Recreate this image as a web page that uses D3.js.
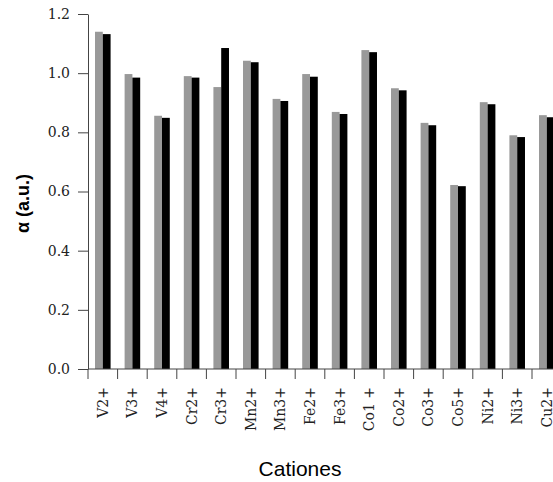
<!DOCTYPE html>
<html>
<head>
<meta charset="utf-8">
<script src="https://cdn.jsdelivr.net/npm/d3@7"></script>
<style>
  body { margin: 0; background: #fff; }
  svg { display: block; }
</style>
</head>
<body>
<div id="chartContainer"></div>
<script>
const cationes = ['V2+', 'V3+', 'V4+', 'Cr2+', 'Cr3+', 'Mn2+', 'Mn3+', 'Fe2+', 'Fe3+',
    'Co1 +', 'Co2+', 'Co3+', 'Co5+', 'Ni2+', 'Ni3+', 'Cu2+'];
const serieGris = [1.140, 0.997, 0.856, 0.990, 0.953, 1.042, 0.913, 0.997, 0.869,
    1.078, 0.949, 0.832, 0.622, 0.902, 0.790, 0.858];
const serieNegra = [1.132, 0.985, 0.849, 0.985, 1.085, 1.037, 0.906, 0.988, 0.862,
    1.071, 0.942, 0.824, 0.618, 0.895, 0.784, 0.851];
const yTicks = [0, 0.2, 0.4, 0.6, 0.8, 1.0, 1.2];

const width = 553;
const height = 482;
const margin = { top: 14, left: 88, bottom: 113 };
const step = 29.6;

const data = cationes.map((c, i) => ({ cat: c, gris: serieGris[i], negra: serieNegra[i] }));

const svg = d3.select('#chartContainer')
    .append('svg')
    .attr('width', width)
    .attr('height', height);

const scaleX = d3.scaleBand()
    .domain(cationes)
    .range([margin.left, margin.left + step * cationes.length])
    .padding(0);

const scaleSub = d3.scaleBand()
    .domain(['gris', 'negra'])
    .range([0, scaleX.bandwidth()])
    .paddingInner(0)
    .paddingOuter(0.9);

const scaleY = d3.scaleLinear()
    .domain([0, 1.2])
    .range([height - margin.bottom, margin.top]);

const colors = { gris: '#999999', negra: '#000000' };

// bars
const groups = svg.append('g')
    .selectAll('g')
    .data(data)
    .enter()
    .append('g')
    .attr('transform', d => `translate(${scaleX(d.cat)},0)`);

groups.selectAll('rect')
    .data(d => ['gris', 'negra'].map(k => ({ key: k, value: d[k] })))
    .enter()
    .append('rect')
    .attr('x', d => scaleSub(d.key))
    .attr('width', scaleSub.bandwidth())
    .attr('y', d => scaleY(d.value))
    .attr('height', d => scaleY(0) - scaleY(d.value))
    .attr('fill', d => colors[d.key]);

// Y axis
const yAxis = svg.append('g')
    .attr('transform', `translate(${margin.left},0)`)
    .call(d3.axisLeft(scaleY)
        .tickValues(yTicks)
        .tickFormat(d3.format('.1f'))
        .tickSize(10)
        .tickSizeOuter(0)
        .tickPadding(8));

yAxis.selectAll('text')
    .style('font-family', '"DejaVu Serif", serif')
    .style('font-size', '14px')
    .attr('fill', '#222');

// X axis: labels centred, ticks between categories
const xAxis = svg.append('g')
    .attr('transform', `translate(0,${scaleY(0)})`)
    .call(d3.axisBottom(scaleX).tickSize(0).tickSizeOuter(0));

xAxis.select('.domain').remove();

xAxis.selectAll('text')
    .attr('transform', 'rotate(-90)')
    .attr('x', -18)
    .attr('y', 0)
    .attr('dy', '0.35em')
    .style('text-anchor', 'end')
    .style('font-family', '"DejaVu Serif", serif')
    .style('font-size', '14px')
    .attr('fill', '#222');

xAxis.append('line')
    .attr('x1', margin.left)
    .attr('x2', width)
    .attr('stroke', '#444');

xAxis.selectAll('line.sep')
    .data(cationes)
    .enter()
    .append('line')
    .attr('class', 'sep')
    .attr('x1', d => scaleX(d))
    .attr('x2', d => scaleX(d))
    .attr('y1', 0)
    .attr('y2', 10)
    .attr('stroke', '#444');

svg.selectAll('.domain, .tick line').attr('stroke', '#444');

// titles
svg.append('text')
    .attr('transform', `translate(29,${(scaleY(0) + scaleY(1.2)) / 2 + 12}) rotate(-90)`)
    .attr('text-anchor', 'middle')
    .style('font-family', '"Liberation Sans", Arial, sans-serif')
    .style('font-weight', 'bold')
    .style('font-size', '18px')
    .text('α (a.u.)');

svg.append('text')
    .attr('x', 300)
    .attr('y', 476)
    .attr('text-anchor', 'middle')
    .style('font-family', '"Liberation Sans", Arial, sans-serif')
    .style('font-size', '21px')
    .text('Cationes');
</script>
</body>
</html>
